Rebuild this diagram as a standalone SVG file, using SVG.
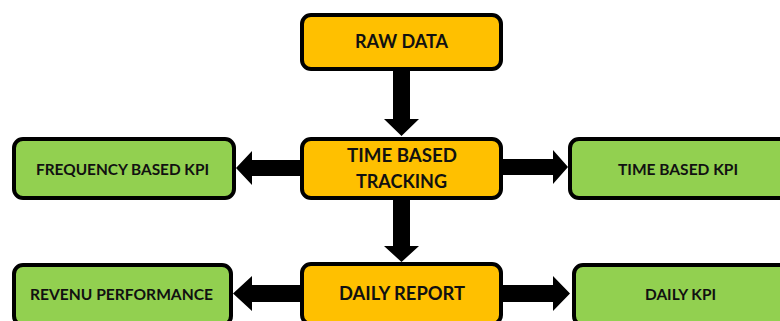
<svg xmlns="http://www.w3.org/2000/svg" width="780" height="321" viewBox="0 0 780 321">
<style>
.o{fill:#FFC000;stroke:#000;stroke-width:4}
.g{fill:#92D050;stroke:#000;stroke-width:4}
text{font-family:Lato,"Liberation Sans",sans-serif;font-weight:bold;fill:#111;text-anchor:middle}
.b{font-size:18px}
.s{font-size:16px}
.a{fill:#000}
</style>
<rect width="780" height="321" fill="#fff"/>
<g id="connectors">
<polygon class="a" points="393,71 410,71 410,119 419,119 401.5,136 384,119 393,119"/>
<polygon class="a" points="393,200 410,200 410,246 419,246 401.5,262 384,246 393,246"/>
<polygon class="a" points="300,160 252,160 252,151 236,168 252,185 252,176 300,176"/>
<polygon class="a" points="503,159 553,159 553,150 568,167 553,184 553,175 503,175"/>
<polygon class="a" points="300,285 252,285 252,276 233,293.5 252,311 252,302 300,302"/>
<polygon class="a" points="503,285 553,285 553,276 570,293.5 553,311 553,302 503,302"/>
</g>
<g id="raw-data">
<rect class="o" x="302" y="15" width="199" height="54" rx="9"/>
<text class="b" x="401.5" y="48" textLength="93" lengthAdjust="spacingAndGlyphs">RAW DATA</text>
</g>
<g id="time-based-tracking">
<rect class="o" x="302" y="139" width="199" height="59" rx="9"/>
<text class="b" x="402" y="162" textLength="110" lengthAdjust="spacingAndGlyphs">TIME BASED</text>
<text class="b" x="401.5" y="188" textLength="91" lengthAdjust="spacingAndGlyphs">TRACKING</text>
</g>
<g id="daily-report">
<rect class="o" x="302" y="264" width="199" height="60" rx="9"/>
<text class="b" x="402" y="300" textLength="126" lengthAdjust="spacingAndGlyphs">DAILY REPORT</text>
</g>
<g id="frequency-based-kpi">
<rect class="g" x="14" y="139" width="220" height="59" rx="9"/>
<text class="s" x="122.5" y="175" textLength="173" lengthAdjust="spacingAndGlyphs">FREQUENCY BASED KPI</text>
</g>
<g id="time-based-kpi">
<rect class="g" x="570" y="139" width="222" height="59" rx="9"/>
<text class="s" x="678" y="175" textLength="120" lengthAdjust="spacingAndGlyphs">TIME BASED KPI</text>
</g>
<g id="revenu-performance">
<rect class="g" x="14" y="265" width="217" height="60" rx="9"/>
<text class="s" x="121.5" y="300" textLength="183" lengthAdjust="spacingAndGlyphs">REVENU PERFORMANCE</text>
</g>
<g id="daily-kpi">
<rect class="g" x="574" y="265" width="220" height="60" rx="9"/>
<text class="s" x="680.5" y="300" textLength="71" lengthAdjust="spacingAndGlyphs">DAILY KPI</text>
</g>
</svg>
